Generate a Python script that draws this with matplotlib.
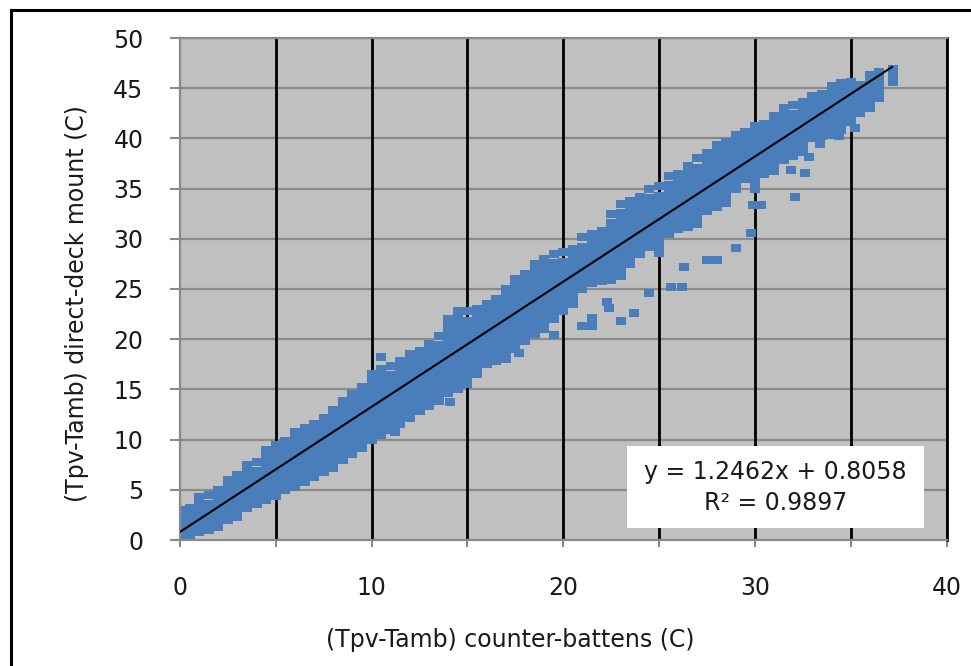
import matplotlib
matplotlib.use("Agg")
import matplotlib.pyplot as plt
from matplotlib.lines import Line2D
from matplotlib.patches import Rectangle

# ---------------- data ----------------
col_x = [0.0, 0.5, 1.0, 1.5, 2.0, 2.5, 3.0, 3.5, 4.0, 4.5,
         5.0, 5.5, 6.0, 6.5, 7.0, 7.5, 8.0, 8.5, 9.0, 9.5,
         10.0, 10.5, 11.0, 11.5, 12.0, 12.5, 13.0, 13.5, 14.0, 14.5,
         15.0, 15.5, 16.0, 16.5, 17.0, 17.5, 18.0, 18.5, 19.0, 19.5,
         20.0, 20.5, 21.0, 21.5, 22.0, 22.5, 23.0, 23.5, 24.0, 24.5,
         25.0, 25.5, 26.0, 26.5, 27.0, 27.5, 28.0, 28.5, 29.0, 29.5,
         30.0, 30.5, 31.0, 31.5, 32.0, 32.5, 33.0, 33.5, 34.0, 34.5,
         35.0, 35.5, 36.0, 36.5, 37.2]

col_y = [
    [0.0, 0.5, 1.1, 1.6, 2.3, 3.0],
    [0.2, 0.8, 1.4, 2.0, 2.6, 3.2],
    [0.8, 1.4, 2.1, 2.7, 3.3, 3.9, 4.3],
    [1.0, 1.7, 2.3, 2.9, 3.6, 4.5],
    [1.3, 1.9, 2.6, 3.2, 3.8, 4.4, 5.0],
    [2.0, 2.6, 3.3, 3.9, 4.6, 5.3, 6.0],
    [2.3, 3.0, 3.6, 4.3, 4.8, 5.5, 6.0, 6.5],
    [3.2, 3.8, 4.4, 5.0, 5.7, 6.4, 7.0, 7.5],
    [3.6, 4.2, 4.9, 5.5, 6.2, 6.9, 7.8],
    [4.0, 4.6, 5.3, 5.9, 6.6, 7.2, 7.9, 8.5, 9.0],
    [4.4, 5.0, 5.7, 6.3, 7.0, 7.6, 8.3, 8.9, 9.5],
    [5.0, 5.6, 6.3, 7.0, 7.5, 8.2, 8.8, 9.3, 9.9],
    [5.3, 6.0, 6.6, 7.3, 8.0, 8.6, 9.3, 9.9, 10.4, 10.8],
    [5.8, 6.5, 7.1, 7.8, 8.5, 9.1, 9.8, 10.5, 11.2],
    [6.3, 6.9, 7.6, 8.3, 8.9, 9.6, 10.2, 10.9, 11.6],
    [6.8, 7.5, 8.1, 8.8, 9.5, 10.1, 10.8, 11.5, 12.2],
    [7.2, 7.9, 8.5, 9.2, 9.9, 10.6, 11.2, 11.9, 12.5, 12.9],
    [8.0, 8.7, 9.3, 10.0, 10.7, 11.3, 12.0, 12.7, 13.3, 13.8],
    [8.6, 9.2, 9.9, 10.6, 11.2, 11.9, 12.6, 13.2, 13.9, 14.5],
    [9.2, 9.9, 10.5, 11.2, 11.9, 12.6, 13.2, 13.9, 14.6, 15.2],
    [10.0, 10.7, 11.3, 12.0, 12.7, 13.4, 14.1, 14.8, 15.4, 16.0, 16.5],
    [10.5, 11.2, 11.8, 12.5, 13.2, 13.9, 14.5, 15.2, 15.9, 16.5, 17.0],
    [11.0, 11.7, 12.4, 13.0, 13.7, 14.4, 15.1, 15.7, 16.4, 17.3],
    [11.6, 12.3, 12.9, 13.6, 14.3, 15.0, 15.6, 16.3, 17.0, 17.8],
    [12.2, 12.9, 13.5, 14.2, 14.9, 15.6, 16.3, 17.0, 17.7, 18.5],
    [12.8, 13.5, 14.1, 14.8, 15.5, 16.2, 16.9, 17.5, 18.2, 18.8],
    [13.3, 14.0, 14.7, 15.4, 16.1, 16.7, 17.4, 18.1, 18.8, 19.5],
    [13.8, 14.5, 15.2, 15.9, 16.6, 17.3, 18.0, 18.7, 19.4, 20.3],
    [14.6, 15.3, 16.0, 16.7, 17.4, 18.1, 18.8, 19.5, 20.2, 20.9, 21.5, 22.0],
    [15.0, 15.7, 16.4, 17.1, 17.8, 18.5, 19.2, 19.9, 20.6, 21.3, 22.0, 22.8],
    [15.5, 16.2, 16.9, 17.6, 18.3, 19.0, 19.7, 20.4, 21.1, 21.8, 22.8],
    [16.5, 17.2, 17.9, 18.6, 19.3, 20.0, 20.7, 21.4, 22.2, 23.0],
    [17.5, 18.2, 18.9, 19.6, 20.3, 21.0, 21.7, 22.4, 23.0, 23.5],
    [17.8, 18.5, 19.2, 19.9, 20.6, 21.3, 22.0, 22.7, 23.4, 24.0],
    [18.0, 18.8, 19.5, 20.2, 20.9, 21.6, 22.3, 23.0, 23.7, 24.4, 25.0],
    [19.0, 19.7, 20.4, 21.1, 21.8, 22.5, 23.2, 23.9, 24.6, 25.3, 26.0],
    [19.8, 20.5, 21.2, 21.9, 22.6, 23.3, 24.0, 24.7, 25.4, 26.0, 26.5],
    [20.5, 21.2, 21.9, 22.6, 23.3, 24.0, 24.7, 25.4, 26.1, 26.8, 27.5],
    [21.0, 21.7, 22.4, 23.1, 23.8, 24.5, 25.2, 25.9, 26.6, 27.3, 28.0],
    [22.0, 22.7, 23.4, 24.1, 24.8, 25.5, 26.2, 26.9, 27.6, 28.5],
    [22.8, 23.5, 24.2, 24.9, 25.6, 26.3, 27.0, 27.7, 28.7],
    [23.5, 24.2, 24.9, 25.6, 26.3, 27.0, 27.7, 28.4, 29.0],
    [25.0, 25.7, 26.4, 27.1, 27.8, 28.5, 29.2, 30.2],
    [25.6, 26.3, 27.0, 27.7, 28.4, 29.1, 29.8, 30.5],
    [25.8, 26.5, 27.2, 27.9, 28.6, 29.3, 30.0, 30.8],
    [25.9, 26.6, 27.3, 28.0, 28.7, 29.4, 30.1, 30.8, 31.6, 32.5],
    [26.3, 27.0, 27.7, 28.4, 29.1, 29.8, 30.5, 31.2, 31.9, 32.6, 33.5],
    [27.5, 28.2, 28.9, 29.6, 30.3, 31.0, 31.7, 32.4, 33.1, 33.8],
    [28.5, 29.2, 29.9, 30.6, 31.3, 32.0, 32.7, 33.4, 34.2],
    [29.2, 29.9, 30.6, 31.3, 32.0, 32.7, 33.4, 34.1, 35.0],
    [28.6, 29.4, 30.1, 30.8, 31.5, 32.2, 32.9, 33.6, 34.3, 35.3],
    [30.5, 31.2, 31.9, 32.6, 33.3, 34.0, 34.7, 35.4, 36.3],
    [31.0, 31.7, 32.4, 33.1, 33.8, 34.5, 35.2, 35.9, 36.5],
    [31.2, 31.9, 32.6, 33.3, 34.0, 34.7, 35.4, 36.1, 36.8, 37.3],
    [31.5, 32.2, 32.9, 33.6, 34.3, 35.0, 35.7, 36.4, 37.1, 38.0],
    [32.8, 33.5, 34.2, 34.9, 35.6, 36.3, 37.0, 37.7, 38.5],
    [33.2, 33.9, 34.6, 35.3, 36.0, 36.7, 37.4, 38.1, 38.8, 39.3],
    [33.6, 34.3, 35.0, 35.7, 36.4, 37.1, 37.8, 38.5, 39.1, 39.6],
    [35.0, 35.7, 36.4, 37.1, 37.8, 38.5, 39.2, 39.8, 40.3],
    [36.0, 36.7, 37.4, 38.1, 38.8, 39.5, 40.0, 40.6],
    [35.0, 35.7, 36.4, 37.1, 37.8, 38.5, 39.2, 39.9, 40.5, 41.2],
    [36.5, 37.2, 37.9, 38.6, 39.3, 40.0, 40.7, 41.4],
    [36.8, 37.5, 38.2, 38.9, 39.6, 40.3, 41.0, 41.6, 42.2],
    [37.8, 38.5, 39.2, 39.9, 40.6, 41.3, 42.0, 42.5, 43.0],
    [38.2, 38.9, 39.6, 40.3, 41.0, 41.7, 42.4, 43.3],
    [38.6, 39.3, 40.0, 40.7, 41.4, 42.1, 42.8, 43.6],
    [40.0, 40.7, 41.4, 42.1, 42.8, 43.5, 44.2],
    [40.2, 40.9, 41.6, 42.3, 43.0, 43.7, 44.4],
    [40.3, 41.0, 41.7, 42.4, 43.1, 43.8, 44.5, 45.2],
    [40.8, 41.5, 42.2, 42.9, 43.6, 44.3, 45.0, 45.5],
    [41.6, 42.3, 43.0, 43.7, 44.4, 45.0, 45.6],
    [42.5, 43.2, 43.9, 44.6, 45.3],
    [43.5, 44.2, 44.9, 45.6, 46.3],
    [44.0, 44.5, 45.2, 45.9, 46.6],
    [45.6, 46.3, 46.9],
]

out_x = [10.5, 11.2, 14.1, 17.7, 19.5, 21.0, 21.5, 21.5, 22.4, 22.3,
         23.0, 23.7, 24.5, 25.6, 26.2, 26.3, 27.5, 28.0, 29.0, 29.8,
         29.9, 30.3, 32.1, 31.9, 32.6, 32.8, 33.4, 34.4, 35.2, 36.0]
out_y = [18.2, 10.8, 13.7, 18.6, 20.4, 21.3, 21.3, 22.1, 23.1, 23.7,
         21.8, 22.6, 24.6, 25.2, 25.2, 27.2, 27.9, 27.9, 29.1, 30.6,
         33.4, 33.4, 34.2, 36.9, 36.6, 38.1, 39.4, 40.2, 41.0, 43.0]

trend_slope = 1.2462
trend_intercept = 0.8058
r_squared = 0.9897

x_label = "(Tpv-Tamb) counter-battens (C)"
y_label = "(Tpv-Tamb) direct-deck mount (C)"
x_ticks = [0, 5, 10, 15, 20, 25, 30, 35, 40]
x_ticklabels = ["0", "", "10", "", "20", "", "30", "", "40"]
y_ticks = [0, 5, 10, 15, 20, 25, 30, 35, 40, 45, 50]
y_ticklabels = [str(v) for v in y_ticks]

assert len(col_x) == len(col_y)
pts_x = [cx for cx, ys in zip(col_x, col_y) for _ in ys] + out_x
pts_y = [y for ys in col_y for y in ys] + out_y

# ---------------- figure ----------------
W, H = 971, 666
plt.rcParams['font.family'] = ['DejaVu Sans']
FS = 17
fig = plt.figure(figsize=(W / 100, H / 100), dpi=100)
fig.patch.set_facecolor("white")

L, R, T, B = 180, 946.5, 38, 540
ax = fig.add_axes([L / W, 1 - B / H, (R - L) / W, (B - T) / H])
ax.set_facecolor("#C0C0C0")
ax.set_xlim(0, 40)
ax.set_ylim(0, 50)

grid_gray = "#8A8A8A"
for yv in y_ticks[1:]:
    ax.axhline(yv, color=grid_gray, lw=1.6, zorder=0.5)
for xv in x_ticks[1:]:
    ax.axvline(xv, color="black", lw=2.0, zorder=0.6)

dash = [(-1, -0.7), (1, -0.7), (1, 0.7), (-1, 0.7), (-1, -0.7)]
ax.scatter(pts_x, pts_y, marker=dash, s=57, color="#4A7EBB",
           linewidths=0, zorder=2)

x0, x1 = min(pts_x), max(pts_x)
ax.plot([x0, x1], [trend_slope * x0 + trend_intercept, trend_slope * x1 + trend_intercept],
        color="black", lw=1.5, zorder=3, solid_capstyle="butt")

for s in ["left", "bottom", "top"]:
    ax.spines[s].set_color(grid_gray)
    ax.spines[s].set_linewidth(1.6)
ax.spines["right"].set_color("black")
ax.spines["right"].set_linewidth(2.0)

text_color = "#1A1A1A"
ax.set_xticks(x_ticks)
ax.set_xticklabels(x_ticklabels)
ax.set_yticks(y_ticks)
ax.set_yticklabels(y_ticklabels)
ax.tick_params(axis="x", length=5, width=1.5, color=grid_gray, pad=21,
               labelsize=FS, labelcolor=text_color)
ax.tick_params(axis="y", length=7.2, width=1.5, color=grid_gray, pad=19,
               labelsize=FS, labelcolor=text_color)

fig.text(510 / W, 1 - 640 / H, x_label, ha="center", va="center",
         fontsize=FS, color=text_color)
fig.text(77 / W, 1 - 304 / H, y_label, ha="center", va="center",
         rotation=90, fontsize=FS, color=text_color)

# trendline equation box
bx0, bx1, by0, by1 = 627, 924, 446, 528
ax.add_patch(Rectangle(((bx0 - L) / (R - L), (B - by1) / (B - T)),
                       (bx1 - bx0) / (R - L), (by1 - by0) / (B - T),
                       transform=ax.transAxes, facecolor="white",
                       edgecolor="none", zorder=5))
cx = ((bx0 + bx1) / 2 - L) / (R - L)
ax.text(cx, (B - 472) / (B - T),
        f"y = {trend_slope:.4f}x + {trend_intercept:.4f}",
        transform=ax.transAxes, ha="center", va="center",
        fontsize=FS, color=text_color, zorder=6)
ax.text(cx, (B - 503) / (B - T), f"R\u00b2 = {r_squared:.4f}",
        transform=ax.transAxes, ha="center", va="center",
        fontsize=FS, color=text_color, zorder=6)

# outer frame lines (top and left)
fig.add_artist(Line2D([11 / W, 1.0], [1 - 10 / H, 1 - 10 / H],
                      transform=fig.transFigure, color="black", lw=2.2))
fig.add_artist(Line2D([11 / W, 11 / W], [0.0, 1 - 10 / H],
                      transform=fig.transFigure, color="black", lw=2.2))

fig.savefig("out.png", dpi=100, facecolor="white")
